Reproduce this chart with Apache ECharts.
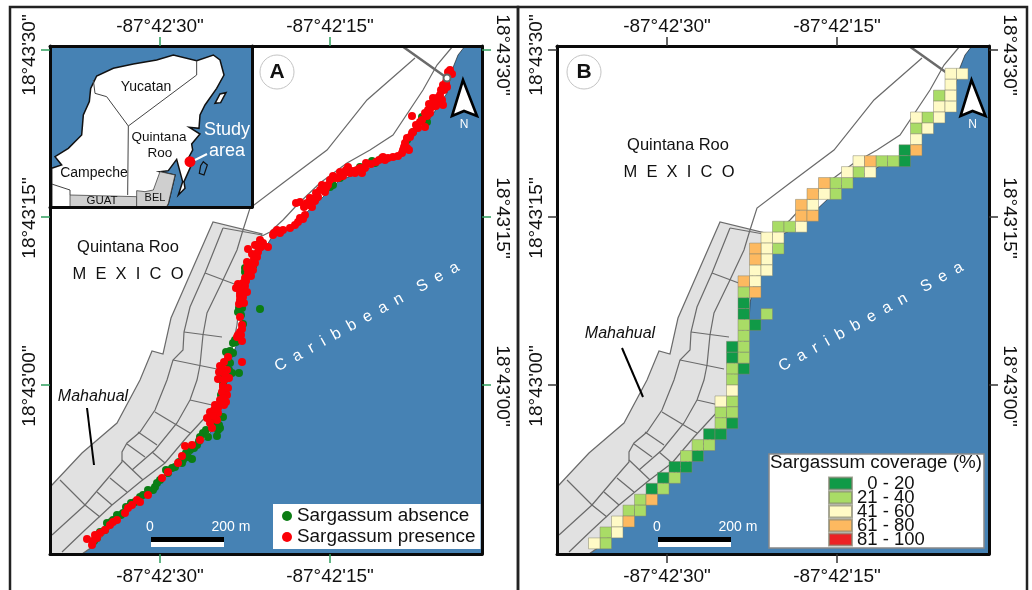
<!DOCTYPE html>
<html><head><meta charset="utf-8">
<style>html,body{margin:0;padding:0;background:#fff}#c{width:1032px;height:590px}</style>
<script src="https://cdn.jsdelivr.net/npm/echarts@6/dist/echarts.min.js"></script>
</head><body><div id="c"></div>
<script>
// Map units for both panels: x 50..482, y 46..554
const lonTicks=[160,330];
const lonLabels=['-87°42\'30"','-87°42\'15"'];
const latTicks=[50,217,385];
const latLabelPos=[55,218,386];
const latLabels=['18°43\'30"','18°43\'15"','18°43\'00"'];

const coast=[[82,554],[92,547],[112,527],[130,508],[150,492],[173,470],[192,453],[207,437],[217,423],[222,403],[225,387],[230,363],[237,343],[242,323],[243,303],[247,283],[253,267],[260,253],[267,245],[273,235],[292,227],[307,212],[323,197],[340,180],[362,172],[380,162],[400,158],[407,143],[420,128],[427,123],[447,93],[452,70],[458,55],[465,46]];
const seaCorners=[[482,46],[482,554]];
const urban=[[50,487],[52,485],[82,453],[117,423],[140,380],[152,351],[163,354],[171,318],[213,222],[262,234],[254,253],[248,267],[243,283],[239,305],[237,325],[233,345],[227,365],[222,387],[220,402],[215,421],[205,435],[190,451],[172,468],[150,490],[130,507],[112,526],[92,547],[82,554],[50,554]];
const mainRoad=[[402,46],[447,78]];
const streets=[
 [[453,46],[437,65],[423,90],[393,135],[370,150],[347,163],[320,183],[297,205],[283,220],[270,232],[262,236]],
 [[415,58],[367,100],[327,150],[283,183],[250,208],[243,230],[237,250],[222,282],[207,313],[203,335],[200,365],[197,380],[190,400],[177,423],[155,450],[132,470]],
 [[223,228],[205,273],[190,307],[184,332],[183,350],[173,360],[167,380],[155,410],[140,432],[127,443],[122,452],[122,462],[108,478],[85,505],[52,535]],
 [[223,228],[262,235]],
 [[205,273],[237,285]],
 [[184,332],[222,337]],
 [[173,360],[217,369]],
 [[212,410],[187,437],[165,463],[140,482],[112,505],[85,530],[62,552]],
 [[190,400],[212,405]],
 [[155,412],[190,433]],
 [[138,432],[157,445]],
 [[127,444],[145,457]],
 [[152,452],[165,463]],
 [[122,460],[143,480]],
 [[110,478],[127,492]],
 [[97,492],[112,505]],
 [[60,480],[85,505],[100,517]]
];
const absence=[[422,117],[427,122],[413,132],[407,140],[382,158],[375,163],[372,161],[360,167],[333,185],[340,178],[330,187],[324,188],[257,245],[245,268],[253,266],[260,309],[239,308],[242,308],[241,315],[243,324],[233,343],[236,342],[230,351],[233,353],[228,363],[230,363],[226,362],[232,373],[239,373],[223,372],[225,379],[223,383],[225,390],[223,382],[223,417],[218,430],[220,428],[213,423],[203,433],[208,437],[197,445],[194,448],[190,450],[186,453],[192,459],[183,460],[175,467],[172,468],[168,473],[160,480],[155,487],[153,490],[143,495],[135,502],[126,507],[123,513],[121,515],[107,523],[105,530],[100,532],[97,538],[94,541],[245,272],[252,270],[238,312],[235,340],[226,352],[229,370],[221,376],[221,395],[219,425],[217,436],[214,420],[206,430],[200,437],[199,441],[188,457],[182,463],[179,462],[166,470],[157,483],[148,490],[140,497],[131,503],[117,515],[113,520],[111,522]];
const presence=[[450,70],[452,74],[448,72],[443,85],[447,87],[444,90],[440,95],[442,100],[433,98],[437,103],[443,105],[432,107],[436,106],[430,113],[425,113],[428,110],[420,122],[425,127],[422,120],[412,116],[412,133],[413,132],[410,137],[405,143],[407,148],[409,150],[404,147],[402,153],[393,157],[383,157],[385,160],[376,162],[366,163],[365,168],[362,173],[357,170],[353,171],[348,167],[350,173],[345,172],[340,172],[338,178],[341,176],[322,185],[328,185],[325,192],[320,190],[318,197],[313,199],[310,198],[300,202],[312,207],[309,205],[305,215],[303,219],[300,218],[295,225],[283,230],[277,230],[274,233],[273,235],[260,240],[263,243],[268,247],[248,249],[258,252],[257,257],[254,259],[255,263],[250,267],[252,265],[248,273],[251,276],[245,278],[243,283],[246,281],[238,284],[242,290],[240,293],[240,296],[243,297],[239,304],[240,317],[242,325],[240,332],[242,329],[237,337],[238,335],[242,341],[242,362],[228,357],[220,366],[227,370],[225,375],[218,379],[222,368],[223,386],[223,387],[227,395],[222,392],[220,400],[223,398],[218,408],[221,404],[210,412],[218,413],[210,423],[217,420],[200,440],[185,446],[192,445],[182,456],[178,463],[168,472],[162,478],[148,495],[140,502],[137,500],[132,505],[128,508],[125,513],[117,520],[113,522],[110,525],[105,530],[100,533],[97,538],[95,535],[87,539],[92,545],[93,541],
[446,82],[441,90],[437,98],[434,104],[429,104],[427,116],[416,125],[418,128],[407,138],[403,150],[398,156],[388,158],[379,160],[371,164],[360,168],[355,173],[346,170],[343,176],[335,178],[333,176],[330,180],[326,188],[316,193],[315,201],[307,203],[304,207],[296,203],[298,222],[290,228],[280,233],[255,245],[261,247],[252,254],[247,262],[253,270],[247,268],[241,287],[236,288],[245,286],[247,292],[240,300],[244,303],[241,335],[224,362],[219,372],[229,378],[224,380],[228,388],[226,402],[224,405],[214,410],[213,416],[215,405],[207,418],[212,428]];

// Coverage cells as [column, row] on the sampling lattice
const cellOriginX=443.75, cellOriginY=73.8, cellStepX=11.5, cellStepY=10.92;
const cov0_20=[[4,7],[4,8],[18,21],[18,22],[17,23],[19,25],[19,26],[18,27],[19,32],[21,33],[20,33],[22,35],[24,36],[23,36],[25,37],[26,38]];
const cov21_40=[[1,2],[2,4],[3,5],[6,8],[5,8],[8,9],[10,10],[9,10],[10,11],[15,14],[14,14],[15,16],[18,20],[16,22],[18,23],[18,24],[18,25],[18,26],[19,27],[19,28],[19,30],[20,31],[19,31],[20,32],[22,34],[21,34],[23,35],[24,37],[25,38],[27,39],[28,40],[27,40],[30,42],[30,43]];
const cov41_60=[[0,0],[-1,0],[0,1],[0,2],[1,3],[0,3],[3,4],[1,4],[2,5],[3,6],[8,8],[9,9],[7,9],[11,11],[12,12],[13,14],[16,15],[15,15],[16,16],[16,17],[17,18],[16,18],[17,19],[19,29],[20,30],[29,41],[29,42],[31,43]];
const cov61_80=[[3,7],[7,8],[11,10],[12,11],[13,12],[13,13],[12,13],[17,16],[17,17],[18,19],[17,20],[26,39],[28,41]];
const cov81_100=[];

// Inset units: x 150..756, y 138..621
const insetLand=[[155,505],[185,495],[165,470],[205,445],[245,405],[250,345],[268,305],[272,265],[290,228],[340,205],[400,192],[470,180],[520,165],[590,182],[640,165],[660,180],[672,225],[650,265],[615,315],[600,345],[597,385],[568,382],[600,402],[575,432],[578,450],[562,480],[572,500],[552,545],[555,565],[535,585],[548,545],[530,478],[505,512],[480,515],[525,525],[505,610],[500,620],[155,620]];
const insetBelize=[[410,572],[435,575],[460,570],[480,515],[525,525],[505,610],[500,620],[410,620]];
const insetGuat=[[210,585],[410,590],[410,620],[210,620]];
const insetCozumel=[[645,310],[660,282],[678,278],[662,308]];
const insetChinchorro=[[610,485],[622,495],[612,525],[598,520],[602,497]];
const insetBorders=[
 [[590,182],[590,225],[385,378],[320,290],[285,280],[280,240]],
 [[385,378],[383,585]],
 [[155,552],[210,570],[210,585]]
];
const insetSite=[[570,485]];

const legendA=['Sargassum absence','Sargassum presence'];
const legendB=['0 - 20','21 - 40','41 - 60','61 - 80','81 - 100'];

const SEA='#4682b4', ROAD='#6a6a6a', F='"Liberation Sans",Arial,sans-serif';
const axisIdx=[0,2,4];
function shape(g,pts,style,z,closed){
  return {type:'custom',coordinateSystem:'cartesian2d',xAxisIndex:axisIdx[g],yAxisIndex:axisIdx[g],z,silent:true,clip:false,
    data:pts,encode:{x:0,y:1},
    renderItem:(p,api)=>p.dataIndex?null:{type:closed?'polygon':'polyline',shape:{points:pts.map(q=>api.coord(q))},style}};
}
const series=[];
[0,1].forEach(g=>{
  series.push(shape(g,coast.concat(seaCorners),{fill:SEA,stroke:'#111',lineWidth:0.6},1,true));
  series.push(shape(g,urban,{fill:'#e1e1e1',stroke:ROAD,lineWidth:1.2},2,true));
  streets.forEach(s=>series.push(shape(g,s,{fill:null,stroke:ROAD,lineWidth:1.2},3,false)));
  series.push(shape(g,mainRoad,{fill:null,stroke:ROAD,lineWidth:2.5},3,false));
});
series.push({type:'scatter',name:legendA[0],xAxisIndex:0,yAxisIndex:0,z:4,symbolSize:8,data:absence,itemStyle:{color:'#0b7d14',opacity:1},silent:true});
series.push({type:'scatter',name:legendA[1],xAxisIndex:0,yAxisIndex:0,z:5,symbolSize:8,data:presence,itemStyle:{color:'#fb0007',opacity:1},silent:true});
const covers=[cov0_20,cov21_40,cov41_60,cov61_80,cov81_100];
const covColors=['#109a47','#a9dc66','#fffac6','#fdb960','#ec2224'];
covers.forEach((arr,i)=>series.push({type:'scatter',name:legendB[i],xAxisIndex:2,yAxisIndex:2,z:5,symbol:'rect',
  symbolSize:[cellStepX,cellStepY],silent:true,
  data:arr.map(c=>[cellOriginX-cellStepX*c[0],cellOriginY+cellStepY*c[1]]),
  itemStyle:{color:covColors[i],borderColor:'rgba(130,130,110,.7)',borderWidth:0.7,opacity:1}}));
// inset
const black={stroke:'#111',lineWidth:1.5};
series.push(shape(2,[[150,138],[756,138],[756,621],[150,621]],{fill:SEA},8,true));
series.push(shape(2,insetLand,Object.assign({fill:'#fff'},black),9,true));
series.push(shape(2,insetCozumel,Object.assign({fill:'#fff'},black),9,true));
series.push(shape(2,insetChinchorro,{fill:SEA,stroke:'#111',lineWidth:1.2},9,true));
series.push(shape(2,insetGuat,{fill:'#cfcfcf',stroke:'#444',lineWidth:0.8},10,true));
series.push(shape(2,insetBelize,{fill:'#cfcfcf',stroke:'#444',lineWidth:0.8},10,true));
insetBorders.forEach(s=>series.push(shape(2,s,{fill:null,stroke:'#444',lineWidth:1},10,false)));
series.push({type:'scatter',xAxisIndex:4,yAxisIndex:4,z:11,symbolSize:11,data:insetSite,itemStyle:{color:'#fb0007',opacity:1},silent:true});

function xAxes(grid,pos,color){return {type:'value',gridIndex:grid,position:pos,min:50,max:482,z:20,
  axisLine:{show:true,onZero:false,lineStyle:{color:'#0a0a0a',width:3}},
  axisTick:{show:true,inside:false,length:9,customValues:lonTicks,lineStyle:{color,width:1.5}},
  axisLabel:{show:true,margin:pos==='top'?10:13,customValues:lonTicks,formatter:v=>lonLabels[lonTicks.indexOf(v)],fontFamily:F,fontSize:19,color:'#111'},
  splitLine:{show:false}};}
function yAxes(grid,pos,color){return {type:'value',gridIndex:grid,position:pos,min:46,max:554,inverse:true,z:20,
  axisLine:{show:true,onZero:false,lineStyle:{color:'#0a0a0a',width:3}},
  axisTick:{show:true,inside:false,length:9,customValues:latTicks,lineStyle:{color,width:1.5}},
  axisLabel:{show:true,margin:11,rotate:pos==='left'?90:-90,customValues:latLabelPos,formatter:v=>latLabels[latLabelPos.indexOf(v)],fontFamily:F,fontSize:19,color:'#111'},
  splitLine:{show:false}};}
const GREEN='#2f9e5e', DARK='#333';
const frameAxis=(p)=>({type:'value',gridIndex:2,position:p,z:20,axisLine:{show:true,onZero:false,lineStyle:{color:'#0a0a0a',width:3}},axisTick:{show:false},axisLabel:{show:false},splitLine:{show:false}});

function txt(x,y,text,font,fill,extra){return Object.assign({type:'text',z:40,x,y,style:{text,font,fill:fill||'#111',textAlign:'center',textVerticalAlign:'middle'}},extra||{});}
const g=[];
g.push({type:'rect',z:0,shape:{x:10,y:7,width:508,height:600},style:{fill:null,stroke:'#222',lineWidth:2.5}});
g.push({type:'rect',z:0,shape:{x:518,y:7,width:509,height:600},style:{fill:null,stroke:'#222',lineWidth:2.5}});
[0,507].forEach((o,i)=>{
  const lab=i?'B':'A';
  g.push({type:'circle',z:40,shape:{cx:i?584:277,cy:72,r:17},style:{fill:'#fff',stroke:'#c4c4c4',lineWidth:1}});
  g.push(txt(i?584:277,72,lab,'bold 21px '+F));
  // scale bar
  g.push(txt(150+o,527,'0','14px '+F,'#fff'));
  g.push(txt(231+o,527,'200 m','14px '+F,'#fff'));
  g.push({type:'rect',z:40,shape:{x:151+o,y:537,width:73,height:5},style:{fill:'#000'}});
  g.push({type:'rect',z:40,shape:{x:151+o,y:542,width:73,height:5},style:{fill:'#fff'}});
  // north arrow
  g.push({type:'polygon',z:40,shape:{points:[[463+o*1.003,80],[452+o*1.003,116],[464+o*1.003,111],[477+o*1.003,116]]},style:{fill:'#fff',stroke:'#000',lineWidth:2.6,lineJoin:'miter'}});
  g.push(txt(464+o*1.003,125,'N','12px '+F,'#fff'));
  // sea name
  g.push(txt(367+o-(i?3:0),317,'C  a  r  i  b  b  e  a  n    S  e  a','16px '+F,'#fff',{rotation:0.51}));
});
g.push(txt(128,247,'Quintana Roo','16.5px '+F));
g.push(txt(128,274,'M  E  X  I  C  O','16.5px '+F));
g.push(txt(678,145,'Quintana Roo','16.5px '+F));
g.push(txt(679,172,'M  E  X  I  C  O','16.5px '+F));
g.push(txt(93,397,'Mahahual','italic 16px '+F));
g.push(txt(620,334,'Mahahual','italic 16px '+F));
g.push({type:'line',z:40,shape:{x1:87,y1:408,x2:94,y2:465},style:{stroke:'#000',lineWidth:2}});
g.push({type:'line',z:40,shape:{x1:622,y1:348,x2:643,y2:397},style:{stroke:'#000',lineWidth:2}});
g.push({type:'circle',z:40,shape:{cx:447,cy:78,r:3.5},style:{fill:'#fff',stroke:'#666',lineWidth:2}});
// inset texts
g.push(txt(146,87,'Yucatan','14px '+F));
g.push(txt(159,137,'Quintana','13.5px '+F));
g.push(txt(160,153,'Roo','13.5px '+F));
g.push(txt(94,173,'Campeche','14px '+F));
g.push(txt(102,201,'GUAT','11.5px '+F));
g.push(txt(155,198,'BEL','11px '+F));
g.push(txt(227,130,'Study','18px '+F,'#fff'));
g.push(txt(227,151,'area','18px '+F,'#fff'));
g.push({type:'line',z:40,shape:{x1:195,y1:160,x2:207,y2:154},style:{stroke:'#fff',lineWidth:2}});
// coverage legend box
g.push({type:'rect',z:35,shape:{x:769,y:454,width:215,height:94},style:{fill:'#fff',stroke:'#888',lineWidth:1.5}});
g.push(txt(876,463,'Sargassum coverage (%)','18.8px '+F));

const chart=echarts.init(document.getElementById('c'),null,{renderer:'canvas'});
chart.setOption({
  animation:false,backgroundColor:'#fff',
  grid:[
    {left:50,top:46,width:432,height:508},
    {left:557,top:46,width:432,height:508},
    {left:50,top:46,width:202,height:161,z:8}
  ],
  xAxis:[xAxes(0,'bottom',GREEN),xAxes(0,'top',GREEN),xAxes(1,'bottom',DARK),xAxes(1,'top',DARK),
    Object.assign(frameAxis('bottom'),{min:150,max:756})],
  yAxis:[yAxes(0,'left',GREEN),yAxes(0,'right',GREEN),yAxes(1,'left',DARK),yAxes(1,'right',DARK),
    Object.assign(frameAxis('right'),{min:138,max:621,inverse:true})],
  legend:[
    {left:273,top:504,orient:'vertical',z:30,backgroundColor:'#fff',padding:[2,5,2,9],itemGap:1,itemWidth:10,itemHeight:10,
     data:legendA.map(n=>({name:n,icon:'circle'})),selectedMode:false,
     textStyle:{fontFamily:F,fontSize:18.9,color:'#111',lineHeight:20}},
    {left:825,top:474,orient:'vertical',z:40,padding:[0,0,0,3],itemGap:-5,itemWidth:23,itemHeight:12,
     data:legendB.map(n=>({name:n,icon:'rect'})),selectedMode:false,
     formatter:n=>n==='0 - 20'?'  '+n:n,
     textStyle:{fontFamily:F,fontSize:18.5,color:'#111',lineHeight:14}}
  ],
  series,graphic:{elements:g}
});
</script></body></html>
